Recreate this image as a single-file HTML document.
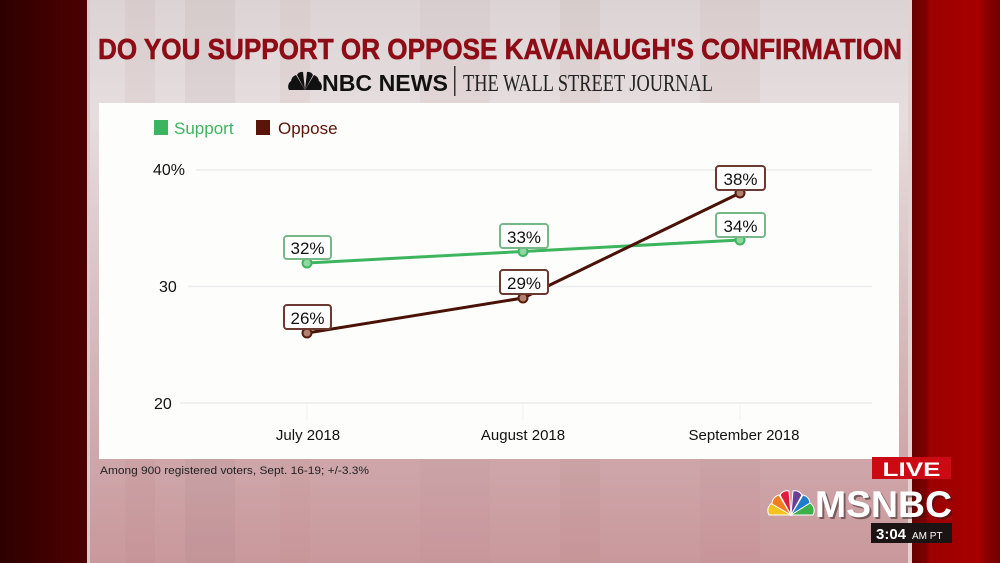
<!DOCTYPE html>
<html><head><meta charset="utf-8"><style>
html,body{margin:0;padding:0;width:1000px;height:563px;overflow:hidden;background:#3a0000;}
svg{display:block;}
</style></head><body>
<svg width="1000" height="563" viewBox="0 0 1000 563" xmlns="http://www.w3.org/2000/svg">
<defs>
<linearGradient id="leftbg" x1="0" x2="1" y1="0" y2="0">
<stop offset="0" stop-color="#2e0000"/><stop offset="0.6" stop-color="#420000"/><stop offset="1" stop-color="#4c0000"/>
</linearGradient>
<linearGradient id="panel" x1="0" x2="0" y1="0" y2="1">
<stop offset="0" stop-color="#dcd4d4"/><stop offset="0.2" stop-color="#e6dede"/><stop offset="0.75" stop-color="#d0acaf"/><stop offset="1" stop-color="#c9989c"/>
</linearGradient>
<linearGradient id="rightbg" x1="0" x2="1" y1="0" y2="0">
<stop offset="0" stop-color="#6a0000"/><stop offset="0.15" stop-color="#7a0000"/><stop offset="0.2" stop-color="#9c0000"/><stop offset="0.75" stop-color="#a60000"/><stop offset="0.85" stop-color="#8a0000"/><stop offset="1" stop-color="#720000"/>
</linearGradient>
</defs>
<rect x="0" y="0" width="87" height="563" fill="url(#leftbg)"/>
<rect x="87" y="0" width="3" height="563" fill="#d9cccc"/>
<rect x="90" y="0" width="818" height="563" fill="url(#panel)"/>
<!-- faint vertical stripes -->
<g opacity="0.08">
<rect x="125" y="0" width="30" height="563" fill="#b07075"/>
<rect x="185" y="0" width="50" height="563" fill="#8a6a70"/>
<rect x="280" y="0" width="30" height="563" fill="#c07a80"/>
<rect x="420" y="0" width="70" height="563" fill="#b88088"/>
<rect x="560" y="0" width="40" height="563" fill="#a87078"/>
<rect x="700" y="0" width="60" height="563" fill="#b07880"/>
</g>
<rect x="908" y="0" width="4" height="563" fill="#e2d2d2"/>
<rect x="912" y="0" width="88" height="563" fill="url(#rightbg)"/>

<!-- Title -->
<text x="500" y="59" text-anchor="middle" font-family="Liberation Sans, sans-serif" font-weight="bold" font-size="29" fill="#8e0c16" stroke="#8e0c16" stroke-width="0.6" textLength="804" lengthAdjust="spacingAndGlyphs">DO YOU SUPPORT OR OPPOSE KAVANAUGH'S CONFIRMATION</text>

<!-- NBC peacock black -->
<g transform="translate(305,90)" fill="#111">
<path d="M0,0 L-16,0 A7,7 0 0 1 -14,-9 Z"/>
<path d="M0,0 L-14,-8 A7,7 0 0 1 -9,-15 Z"/>
<path d="M0,0 L-8,-15 A6,6 0 0 1 -2,-18 Z"/>
<path d="M0,0 L2,-18 A6,6 0 0 1 8,-15 Z"/>
<path d="M0,0 L9,-15 A7,7 0 0 1 14,-8 Z"/>
<path d="M0,0 L14,-9 A7,7 0 0 1 16,0 Z"/>
</g>
<text x="322" y="91" font-family="Liberation Sans, sans-serif" font-weight="bold" font-size="23" fill="#111" textLength="126" lengthAdjust="spacingAndGlyphs">NBC NEWS</text>
<rect x="454" y="66" width="1.5" height="30" fill="#333"/>
<text x="463" y="91" font-family="Liberation Serif, serif" font-size="24" fill="#222" textLength="250" lengthAdjust="spacingAndGlyphs">THE WALL STREET JOURNAL</text>

<!-- White chart panel -->
<rect x="99" y="103" width="800" height="356" fill="#fdfdfc"/>

<!-- Legend -->
<rect x="154" y="120" width="14" height="15" fill="#3cb55e"/>
<text x="174" y="134" font-family="Liberation Sans, sans-serif" font-size="17" fill="#3cb55e">Support</text>
<rect x="256" y="120" width="14" height="15" fill="#5a1508"/>
<text x="278" y="134" font-family="Liberation Sans, sans-serif" font-size="17" fill="#5a1508">Oppose</text>

<!-- Gridlines -->
<g stroke="#ececec" stroke-width="1.5">
<line x1="196" y1="170" x2="872" y2="170"/>
<line x1="188" y1="286.5" x2="872" y2="286.5"/>
<line x1="180" y1="403" x2="872" y2="403"/>
</g>
<g stroke="#eeeeee" stroke-width="1">
<line x1="307" y1="403" x2="307" y2="420"/>
<line x1="523" y1="403" x2="523" y2="420"/>
<line x1="740" y1="403" x2="740" y2="420"/>
</g>

<!-- Y labels -->
<g font-family="Liberation Sans, sans-serif" font-size="16" fill="#111">
<text x="153" y="175">40%</text>
<text x="159" y="292">30</text>
<text x="154" y="409">20</text>
</g>
<!-- X labels -->
<g font-family="Liberation Sans, sans-serif" font-size="15" fill="#111" text-anchor="middle">
<text x="308" y="440">July 2018</text>
<text x="523" y="440">August 2018</text>
<text x="744" y="440">September 2018</text>
</g>

<!-- Lines -->
<polyline points="307,263 523,251.5 740,240" fill="none" stroke="#3cb55e" stroke-width="3"/>
<polyline points="307,333 523,298 740,193" fill="none" stroke="#4a1206" stroke-width="3"/>
<g stroke-width="2">
<circle cx="307" cy="263" r="4.5" fill="#8fd6a0" stroke="#3cb55e"/>
<circle cx="523" cy="251.5" r="4.5" fill="#8fd6a0" stroke="#3cb55e"/>
<circle cx="740" cy="240" r="4.5" fill="#8fd6a0" stroke="#3cb55e"/>
<circle cx="307" cy="333" r="4.5" fill="#b08070" stroke="#5a1a0c"/>
<circle cx="523" cy="298" r="4.5" fill="#b08070" stroke="#5a1a0c"/>
<circle cx="740" cy="193" r="4.5" fill="#b08070" stroke="#5a1a0c"/>
</g>

<!-- Data label boxes -->
<g font-family="Liberation Sans, sans-serif" font-size="17" fill="#111" text-anchor="middle">
<rect x="284" y="236" width="47" height="23" rx="3" fill="#fff" stroke="#78b888" stroke-width="2"/>
<text x="307.5" y="254">32%</text>
<rect x="500" y="224" width="48" height="24" rx="3" fill="#fff" stroke="#78b888" stroke-width="2"/>
<text x="524" y="243">33%</text>
<rect x="716" y="213" width="49" height="24" rx="3" fill="#fff" stroke="#78b888" stroke-width="2"/>
<text x="740.5" y="232">34%</text>
<rect x="284" y="305" width="47" height="24" rx="3" fill="#fff" stroke="#6a3a30" stroke-width="2"/>
<text x="307.5" y="324">26%</text>
<rect x="500" y="270" width="48" height="24" rx="3" fill="#fff" stroke="#6a3a30" stroke-width="2"/>
<text x="524" y="289">29%</text>
<rect x="716" y="166" width="49" height="24" rx="3" fill="#fff" stroke="#6a3a30" stroke-width="2"/>
<text x="740.5" y="185">38%</text>
</g>

<!-- Footnote -->
<text x="100" y="474" font-family="Liberation Sans, sans-serif" font-size="11" fill="#222" textLength="269" lengthAdjust="spacingAndGlyphs">Among 900 registered voters, Sept. 16-19; +/-3.3%</text>

<!-- LIVE -->
<rect x="872" y="457" width="79" height="22" fill="#cc0a14"/>
<text x="911.5" y="476" text-anchor="middle" font-family="Liberation Sans, sans-serif" font-weight="bold" font-size="19" fill="#fff" textLength="58" lengthAdjust="spacingAndGlyphs">LIVE</text>

<!-- MSNBC peacock colored -->
<g transform="translate(791,515)" stroke="#fff" stroke-width="1">
<path d="M0,0 L-22,0 A9,9 0 0 1 -19,-12 Z" fill="#f6c21c"/>
<path d="M0,0 L-19,-11 A9,9 0 0 1 -12,-20 Z" fill="#ef7d22"/>
<path d="M0,0 L-11,-20 A8,8 0 0 1 -2,-24 Z" fill="#e21b3e"/>
<path d="M0,0 L2,-24 A8,8 0 0 1 11,-20 Z" fill="#6a3f98"/>
<path d="M0,0 L12,-20 A9,9 0 0 1 19,-11 Z" fill="#1f7ccc"/>
<path d="M0,0 L19,-12 A9,9 0 0 1 22,0 Z" fill="#3eb049"/>
</g>
<text x="816" y="518" font-family="Liberation Sans, sans-serif" font-weight="bold" font-size="37" fill="#2a1a1a" opacity="0.5" textLength="137" lengthAdjust="spacingAndGlyphs" transform="translate(1,1)">MSNBC</text>
<text x="815" y="517" font-family="Liberation Sans, sans-serif" font-weight="bold" font-size="37" fill="#fff" textLength="137" lengthAdjust="spacingAndGlyphs">MSNBC</text>

<!-- Time -->
<rect x="871" y="523" width="81" height="20" fill="#1c1414"/>
<text x="876" y="539" font-family="Liberation Sans, sans-serif" font-weight="bold" font-size="15" fill="#fff">3:04</text>
<text x="912" y="539" font-family="Liberation Sans, sans-serif" font-size="10" fill="#fff">AM PT</text>
</svg>
</body></html>
